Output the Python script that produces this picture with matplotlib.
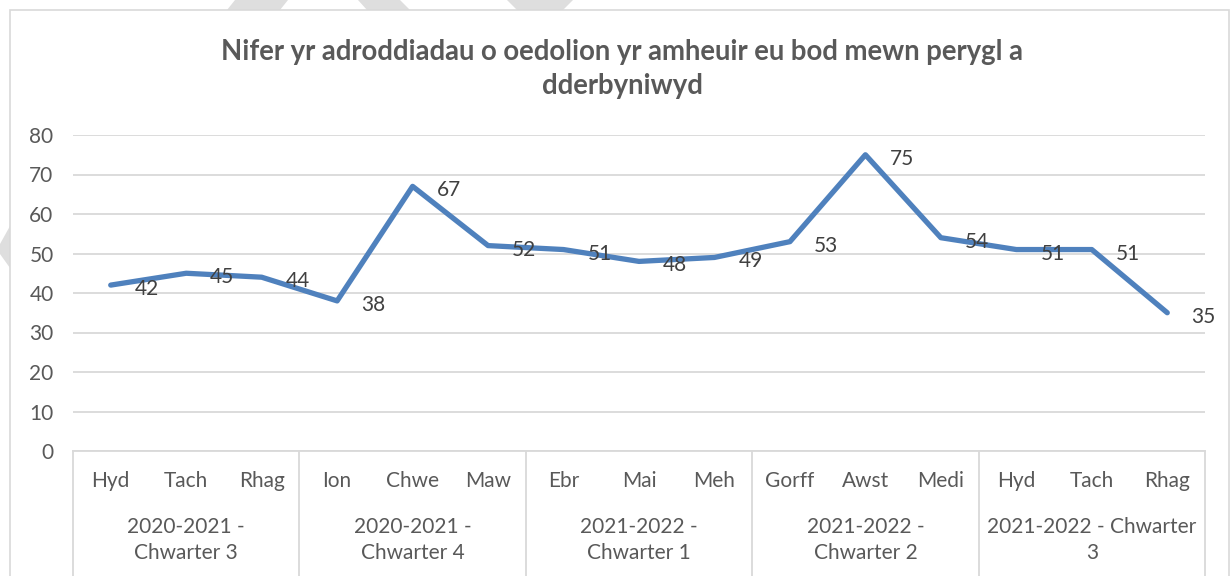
import matplotlib
matplotlib.use("Agg")
import matplotlib.pyplot as plt
from matplotlib.patches import Polygon, Rectangle
from matplotlib.transforms import blended_transform_factory

months = ["Hyd", "Tach", "Rhag", "Ion", "Chwe", "Maw", "Ebr", "Mai", "Meh",
          "Gorff", "Awst", "Medi", "Hyd", "Tach", "Rhag"]
values = [42, 45, 44, 38, 67, 52, 51, 48, 49, 53, 75, 54, 51, 51, 35]
groups = ["2020-2021 -\nChwarter 3", "2020-2021 -\nChwarter 4",
          "2021-2022 -\nChwarter 1", "2021-2022 -\nChwarter 2",
          "2021-2022 - Chwarter\n3"]
group_size = 3
yticks = [0, 10, 20, 30, 40, 50, 60, 70, 80]
title = "Nifer yr adroddiadau o oedolion yr amheuir eu bod mewn perygl a\ndderbyniwyd"

W, H = 1231, 576
DPI = 100
FONT = "Lato"
LINE_COLOR = "#4F81BD"
GRID = "#D9D9D9"
TXT = "#595959"

fig = plt.figure(figsize=(W / DPI, H / DPI), dpi=DPI)
fig.patch.set_facecolor("white")


def fx(px):
    return px / W


def fy(py):
    return 1 - py / H


# faint diagonal watermark pieces around the chart frame
for pts in [
    [(227, 10), (235, 0), (288, 0), (280, 10)],
    [(367, 10), (358, 0), (400, 0), (410, 10)],
    [(517, 10), (507, 0), (573, 0), (563, 10)],
    [(0, 244), (10, 226), (10, 268), (0, 254)],
]:
    fig.patches.append(Polygon([(fx(x), fy(y)) for x, y in pts],
                               closed=True, transform=fig.transFigure,
                               facecolor="#DEDEDE", edgecolor="none", zorder=0))

# chart frame
fig.patches.append(Rectangle((fx(10), fy(580)), fx(1219), fy(10) - fy(580),
                             transform=fig.transFigure, facecolor="white",
                             edgecolor=GRID, linewidth=1.2, zorder=1))

left, right = 73, 1205
top, bottom = 135, 451
ax = fig.add_axes([fx(left), fy(bottom), fx(right - left), fy(top) - fy(bottom)])
ax.set_facecolor("none")
ax.set_zorder(2)

n = len(values)
x = list(range(n))
ax.set_xlim(-0.5, n - 0.5)
ax.set_ylim(0, 80)

for s in ax.spines.values():
    s.set_visible(False)
ax.set_yticks(yticks)
ax.set_yticklabels([str(v) for v in yticks], fontfamily=FONT, fontsize=15, color=TXT)
ax.tick_params(axis="y", length=0, pad=14)
ax.set_xticks([])
ax.yaxis.grid(True, color=GRID, linewidth=1.3)
ax.set_axisbelow(True)

ax.plot(x, values, color=LINE_COLOR, linewidth=3.8, solid_joinstyle="round",
        solid_capstyle="round", clip_on=False, zorder=3)

for xi, v in zip(x, values):
    ax.annotate(str(v), (xi, v), xytext=(24, -4), textcoords="offset pixels",
                ha="left", va="center", fontfamily=FONT, fontsize=15,
                color="#404040", zorder=4, annotation_clip=False)

# category axis: month row and quarter groups
trans = blended_transform_factory(ax.transData, fig.transFigure)
ax.plot([-0.5, n - 0.5], [fy(bottom), fy(bottom)], transform=trans,
        color=GRID, linewidth=1.3, clip_on=False)
bounds = [i * group_size - 0.5 for i in range(len(groups) + 1)]
for b in bounds:
    ax.plot([b, b], [fy(bottom), fy(H + 5)], transform=trans,
            color=GRID, linewidth=1.3, clip_on=False)
for xi, m in zip(x, months):
    ax.text(xi, fy(481), m, transform=trans, ha="center", va="center",
            fontfamily=FONT, fontsize=15, color=TXT)
for i, g in enumerate(groups):
    cx = i * group_size + (group_size - 1) / 2
    ax.text(cx, fy(540), g, transform=trans, ha="center", va="center",
            fontfamily=FONT, fontsize=15, color=TXT, linespacing=1.35)

fig.text(fx(622), fy(69), title, ha="center", va="center", fontfamily=FONT,
         fontweight="bold", fontsize=19.8, color=TXT, linespacing=1.4)

fig.savefig("out.png", dpi=DPI)
